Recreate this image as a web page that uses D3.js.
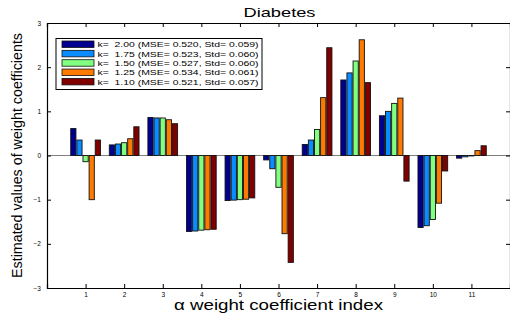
<!DOCTYPE html>
<html><head><meta charset="utf-8">
<script src="https://cdn.jsdelivr.net/npm/d3@7"></script>
<style>body{margin:0;background:#fff}svg{display:block;font-family:"Liberation Sans",Arial,sans-serif}text{white-space:pre}</style>
</head><body><svg id="c" width="510" height="320"></svg>
<script>
const categories = [1,2,3,4,5,6,7,8,9,10,11];
const seriesNames = [
  "k=  2.00 (MSE= 0.520, Std= 0.059)",
  "k=  1.75 (MSE= 0.523, Std= 0.060)",
  "k=  1.50 (MSE= 0.527, Std= 0.060)",
  "k=  1.25 (MSE= 0.534, Std= 0.061)",
  "k=  1.10 (MSE= 0.521, Std= 0.057)"
];
const k200 = [0.61, 0.24, 0.86, -1.72, -1.02, -0.10, 0.25, 1.71, 0.90, -1.63, -0.06];
const k175 = [0.35, 0.26, 0.85, -1.71, -1.01, -0.30, 0.35, 1.87, 1.00, -1.59, -0.03];
const k150 = [-0.14, 0.29, 0.85, -1.69, -1.00, -0.72, 0.59, 2.14, 1.18, -1.45, -0.01];
const k125 = [-1.00, 0.38, 0.81, -1.68, -0.99, -1.77, 1.31, 2.62, 1.30, -1.08, 0.11];
const k110 = [0.35, 0.65, 0.72, -1.67, -0.96, -2.42, 2.44, 1.65, -0.58, -0.35, 0.22];
const colors = ["#000090", "#0A8CFF", "#80FF80", "#FF7A00", "#800000"];
const yTicks = [-3,-2,-1,0,1,2,3];
const series = [k200, k175, k150, k125, k110];

const svg = d3.select("#c");
const L = 47, R = 510, T = 23, B = 288;
const x = d3.scaleLinear().domain([0, 12]).range([L, R]);
const y = d3.scaleLinear().domain([-3, 3]).range([B, T]);
const off = d3.scaleBand().domain(d3.range(series.length)).range([-0.385, 0.385]).paddingInner(0.15);

// zero line
svg.append("line").attr("x1", L).attr("x2", R).attr("y1", y(0)).attr("y2", y(0))
  .attr("stroke", "#808080").attr("stroke-width", 1);

// bars
series.forEach((vals, s) => {
  svg.append("g").selectAll("rect").data(vals).join("rect")
    .attr("x", (d, i) => x(categories[i] + off(s)))
    .attr("width", x(off.bandwidth()) - x(0))
    .attr("y", d => y(Math.max(0, d)))
    .attr("height", d => Math.abs(y(d) - y(0)))
    .attr("fill", colors[s]).attr("stroke", "#111").attr("stroke-width", 0.9);
});

// axes
const yAx = svg.append("g").attr("transform", `translate(${L},0)`)
  .call(d3.axisLeft(y).tickValues(yTicks).tickSize(-4).tickPadding(6).tickFormat(d => d < 0 ? "\u2212" + Math.abs(d) : d));
const yAxR = svg.append("g").attr("transform", `translate(${R},0)`)
  .call(d3.axisRight(y).tickValues(yTicks).tickSize(-4).tickFormat(""));
const xAx = svg.append("g").attr("transform", `translate(0,${B})`)
  .call(d3.axisBottom(x).tickValues(categories).tickSize(-4).tickPadding(4));
const xAxT = svg.append("g").attr("transform", `translate(0,${T})`)
  .call(d3.axisTop(x).tickValues(categories).tickSize(-4).tickFormat(""));
[yAx, yAxR, xAx, xAxT].forEach(g => {
  g.select(".domain").attr("stroke", "#000").attr("stroke-width", 1.2);
  g.selectAll(".tick line").attr("stroke", "#000");
  g.selectAll("text").attr("font-size", 6.5).attr("fill", "#000").attr("font-family", "Liberation Sans, Arial, sans-serif");
});
xAx.selectAll("text").attr("font-size", 6.5);

// title & labels
svg.append("text").attr("x", 279.5).attr("y", 17).attr("text-anchor", "middle")
  .attr("font-size", 13.5).attr("textLength", 72).attr("lengthAdjust", "spacingAndGlyphs").text("Diabetes");
svg.append("text").attr("x", 278.5).attr("y", 309.5).attr("text-anchor", "middle")
  .attr("font-size", 14).attr("textLength", 209).attr("lengthAdjust", "spacingAndGlyphs").text("\u03b1 weight coefficient index");
svg.append("text").attr("transform", "translate(22,155.5) rotate(-90)").attr("text-anchor", "middle")
  .attr("font-size", 14).attr("textLength", 245).attr("lengthAdjust", "spacingAndGlyphs").text("Estimated values of weight coefficients");

// legend
const lg = svg.append("g");
lg.append("rect").attr("x", 56).attr("y", 38.5).attr("width", 206).attr("height", 51)
  .attr("fill", "#fff").attr("stroke", "#000").attr("stroke-width", 1);
seriesNames.forEach((n, i) => {
  const yy = 41 + i * 9.35;
  lg.append("rect").attr("x", 62).attr("y", yy).attr("width", 32).attr("height", 6.5)
    .attr("fill", colors[i]).attr("stroke", "#111").attr("stroke-width", 0.8);
  lg.append("text").attr("x", 97.5).attr("y", yy + 6.3).attr("font-size", 7.8)
    .attr("textLength", 161).attr("lengthAdjust", "spacingAndGlyphs").text(n);
});
</script></body></html>
